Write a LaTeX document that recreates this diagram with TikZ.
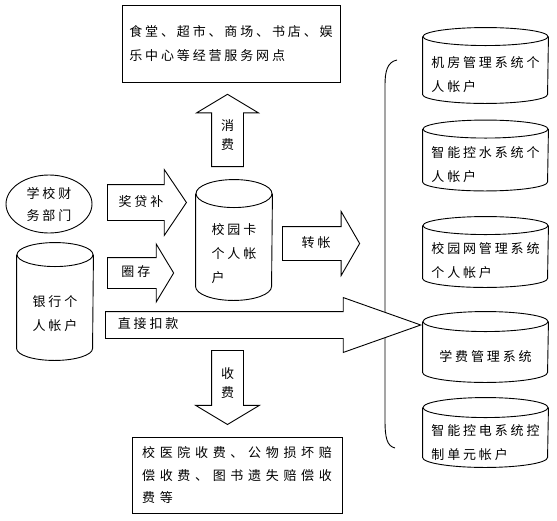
\documentclass[tikz,border=0pt]{standalone}
\usepackage{fontspec}
\setmainfont{Noto Sans CJK SC}[LetterSpace=22]
\newfontfamily\widecjk{Noto Sans CJK SC}[LetterSpace=36]
\usetikzlibrary{shapes.geometric, shapes.arrows}

\tikzset{
	every node/.style={font=\fontsize{13}{24}\selectfont},
	box/.style={draw, rectangle, align=left},
	acct/.style n args={3}{minimum width=#1, minimum height=#2, inner sep=0pt, align=left,
		append after command={\pgfextra{
			\draw ([yshift=#3]\tikzlastnode.north) ellipse [x radius=#1/2, y radius=#3];
			\draw ([yshift=#3]\tikzlastnode.north west) -- ([yshift=#3]\tikzlastnode.south west)
				arc [start angle=180, end angle=360, x radius=#1/2, y radius=#3]
				-- ([yshift=#3]\tikzlastnode.north east);
		}}},
	flow/.style={draw, fill=white, single arrow, anchor=tail, align=center, inner xsep=4pt},
	flowh/.style={flow, text height=10pt, text depth=3pt},
	flowv/.style={flow, text width=13pt, inner xsep=9pt, font=\fontsize{13}{19}\selectfont},
}

\begin{document}
\begin{tikzpicture}[x=1pt, y=-1pt, line width=0.9pt]
	\useasboundingbox (0,0) rectangle (557,520);

	% grouping bracket of the accounts on the right
	\coordinate	(bracetop)	at	(397,60);
	\coordinate	(bracebot)	at	(395,448);
	\draw (bracetop) .. controls (387,62) and (385,72) .. (385,85) -- (385,420)
		.. controls (385,438) and (387,446) .. (bracebot);

	\node[box, minimum width=218pt, minimum height=77pt]	(shops)	at	(231,43.5)
		{食堂、超市、商场、书店、娱\\乐中心等经营服务网点};
	\node[box, minimum width=210pt, minimum height=76pt, font=\widecjk\fontsize{13}{22.5}\selectfont]	(clinic)	at	(237,475)
		{校医院收费、公物损坏赔\\偿收费、图书遗失赔偿收\\费等};

	\node[draw, ellipse, minimum width=86pt, minimum height=58pt, inner sep=0pt, align=center,
		font=\fontsize{13}{22}\selectfont]	(finance)	at	(49,204)	{学校财\\务部门};
	\node[acct={76pt}{93pt}{12pt}]	(bank)	at	(55,313.5)	{银行个\\人帐户};
	\node[acct={76pt}{92pt}{14pt}]	(card)	at	(234,254)	{校园卡\\个人帐\\户};

	\node[acct={125pt}{57pt}{9pt}]	(machroom)	at	(485.5,74.5)	{机房管理系统个\\人帐户};
	\node[acct={125pt}{52pt}{9pt}]	(water)		at	(485.5,164.5)	{智能控水系统个\\人帐户};
	\node[acct={125pt}{52pt}{9pt}]	(campusnet)	at	(485.5,261)	{校园网管理系统\\个人帐户};
	\node[acct={125pt}{50pt}{10pt}]	(tuition)	at	(485.5,357)	{学费管理系统};
	\node[acct={125pt}{49pt}{10pt}]	(power)		at	(485.5,442.5)	{智能控电系统控\\制单元帐户};

	\node[flowh, text width=58pt, inner ysep=11pt, single arrow head extend=15pt, single arrow tip angle=112]
		(award)		at	(107,202.5)	{奖贷补};
	\node[flowh, text width=48pt, inner ysep=8.5pt, single arrow head extend=13.5pt, single arrow tip angle=118]
		(load)		at	(107,273)	{圈存};
	\node[flowh, text width=58.5pt, inner ysep=10pt, single arrow head extend=15pt, single arrow tip angle=120]
		(transfer)	at	(282,243.5)	{转帐};
	\node[flowh, text width=252.4pt, align=left, inner xsep=12pt, inner ysep=6.5pt, single arrow head extend=14pt,
		single arrow tip angle=39]
		(direct)	at	(105,325)	{直接扣款};

	\node[flowv, shape border rotate=90, inner ysep=15.4pt, single arrow head extend=15pt, single arrow tip angle=118]
		(spend)		at	(227.5,167)	{消\\费};
	\node[flowv, shape border rotate=270, inner ysep=16.3pt, single arrow head extend=16pt, single arrow tip angle=118]
		(charge)	at	(227.5,350)	{收\\费};
\end{tikzpicture}
\end{document}
